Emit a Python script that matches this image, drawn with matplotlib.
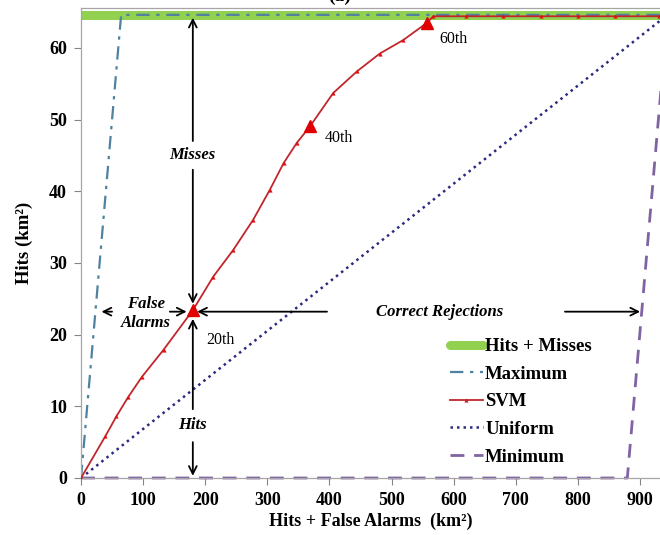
import matplotlib
matplotlib.use("Agg")
import matplotlib.pyplot as plt
from matplotlib.lines import Line2D

# ---- data (km^2) ----
total_area = 944          # Hits + Misses + False Alarms + Correct Rejections
hits_misses = 64.6        # Hits + Misses

svm_x = [0, 39, 57, 76, 98, 133, 180, 213, 245, 277, 304, 326, 347, 369,
         406, 444, 481, 519, 557, 567, 620, 680, 740, 800, 860, 930]
svm_y = [0, 5.8, 8.6, 11.3, 14.1, 17.9, 23.4, 28.1, 31.8, 36.0, 40.2, 43.9,
         46.7, 49.1, 53.7, 56.7, 59.2, 61.1, 63.5, 64.4, 64.4, 64.4, 64.4,
         64.4, 64.4, 64.4]
pct_labels = ["20th", "40th", "60th"]
pct_x = [180, 369, 557]
pct_y = [23.4, 49.1, 63.5]

max_x = [0, hits_misses, total_area]
max_y = [0, hits_misses, hits_misses]
min_x = [0, total_area - hits_misses, total_area]
min_y = [0, 0, hits_misses]
uni_x = [0, total_area]
uni_y = [0, hits_misses]

x_ticks = [0, 100, 200, 300, 400, 500, 600, 700, 800, 900]
y_ticks = [0, 10, 20, 30, 40, 50, 60]

plt.rcParams['font.family'] = ['Liberation Serif', 'DejaVu Serif']

GREEN = '#92D050'
MAXC = '#4F81A0'
SVMC = '#C0272D'
UNIC = '#2A2A80'
MINC = '#8064A2'

fig = plt.figure(figsize=(6.6, 5.35), dpi=100)
ax = fig.add_axes([81 / 660, 57 / 535, 579 / 660, 469.6 / 535])

MAX_LS = (0, (6, 3, 1.5, 3))
UNI_LS = (0, (1, 1.6))
MIN_LS = (0, (5, 3.5))

ax.plot([0, 932], [hits_misses, hits_misses], color=GREEN, lw=6.5,
        solid_capstyle='butt', zorder=1)
ax.plot(max_x, max_y, color=MAXC, lw=1.6, ls=MAX_LS, zorder=2)
ax.plot(svm_x, svm_y, color=SVMC, lw=1.3, marker='^', ms=3,
        markerfacecolor='#E01010', markeredgewidth=0, zorder=4)
ax.plot(uni_x, uni_y, color=UNIC, lw=1.8, ls=UNI_LS, zorder=2)
ax.plot(min_x, min_y, color=MINC, lw=2.0, ls=MIN_LS, zorder=2, clip_on=False)
ax.plot(pct_x, pct_y, ls='none', marker='^', ms=9, color='#E00000', zorder=5)

ax.text(pct_x[0] + 22, pct_y[0] - 4.2, pct_labels[0], fontsize=11.5, va='center')
ax.text(pct_x[1] + 23, pct_y[1] - 1.7, pct_labels[1], fontsize=11.5, va='center')
ax.text(pct_x[2] + 20, pct_y[2] - 2.3, pct_labels[2], fontsize=11.5, va='center')

arw = dict(arrowstyle='->', color='black', lw=1.3, mutation_scale=14,
           shrinkA=0, shrinkB=0)
ax.annotate('', xy=(180, 64.2), xytext=(180, 47.0), arrowprops=arw)
ax.annotate('', xy=(180, 24.3), xytext=(180, 43.0), arrowprops=arw)
ax.text(180, 45, 'Misses', fontsize=12, fontweight='bold', style='italic',
        ha='center', va='center')
ax.annotate('', xy=(180, 22.2), xytext=(180, 9.6), arrowprops=arw)
ax.annotate('', xy=(180, 0.3), xytext=(180, 5.0), arrowprops=arw)
ax.text(180, 7.4, 'Hits', fontsize=12, fontweight='bold', style='italic',
        ha='center', va='center')
ax.annotate('', xy=(33, 23.2), xytext=(50, 23.2), arrowprops=arw)
ax.annotate('', xy=(170, 23.2), xytext=(143, 23.2), arrowprops=arw)
ax.text(104, 22.9, 'False\nAlarms', fontsize=12, fontweight='bold',
        style='italic', ha='center', va='center', linespacing=1.25)
ax.annotate('', xy=(187, 23.2), xytext=(396, 23.2), arrowprops=arw)
ax.annotate('', xy=(900, 23.2), xytext=(779, 23.2), arrowprops=arw)
ax.text(577, 23.1, 'Correct Rejections', fontsize=12, fontweight='bold',
        style='italic', ha='center', va='center')

ax.set_xlim(0, 932)
ax.set_ylim(0, 65.5)
ax.set_xticks(x_ticks)
ax.set_yticks(y_ticks)
for lab in ax.get_xticklabels() + ax.get_yticklabels():
    lab.set_fontweight('bold')
    lab.set_fontsize(13)
ax.tick_params(direction='out', length=5, color='#868686', width=0.8, pad=5)

for s in ['left', 'bottom', 'top']:
    ax.spines[s].set_color('#A6A6A6')
    ax.spines[s].set_linewidth(0.9)
ax.spines['right'].set_visible(False)

ax.set_xlabel('Hits + False Alarms  (km²)', fontsize=13, fontweight='bold',
              labelpad=3)
ax.set_ylabel('Hits (km²)', fontsize=13.5, fontweight='bold', labelpad=12)

handles = [
    Line2D([], [], color=GREEN, lw=6.5, solid_capstyle='round'),
    Line2D([], [], color=MAXC, lw=1.6, ls=MAX_LS),
    Line2D([], [], color=SVMC, lw=1.3, marker='^', ms=3, markeredgewidth=0),
    Line2D([], [], color=UNIC, lw=1.8, ls=UNI_LS),
    Line2D([], [], color=MINC, lw=2.0, ls=MIN_LS),
]
labels = ['Hits + Misses', 'Maximum', 'SVM', 'Uniform', 'Minimum']
ax.legend(handles, labels, loc='upper left', bbox_to_anchor=(0.637, 0.298),
          frameon=False, prop={'weight': 'bold', 'size': 13.5},
          handlelength=1.76, handletextpad=0.12, labelspacing=0.56,
          borderaxespad=0, borderpad=0)

fig.text(0.515, 0.998, '(a)', fontsize=14, fontweight='bold', ha='center',
         va='baseline')

fig.savefig('out.png', dpi=100)
